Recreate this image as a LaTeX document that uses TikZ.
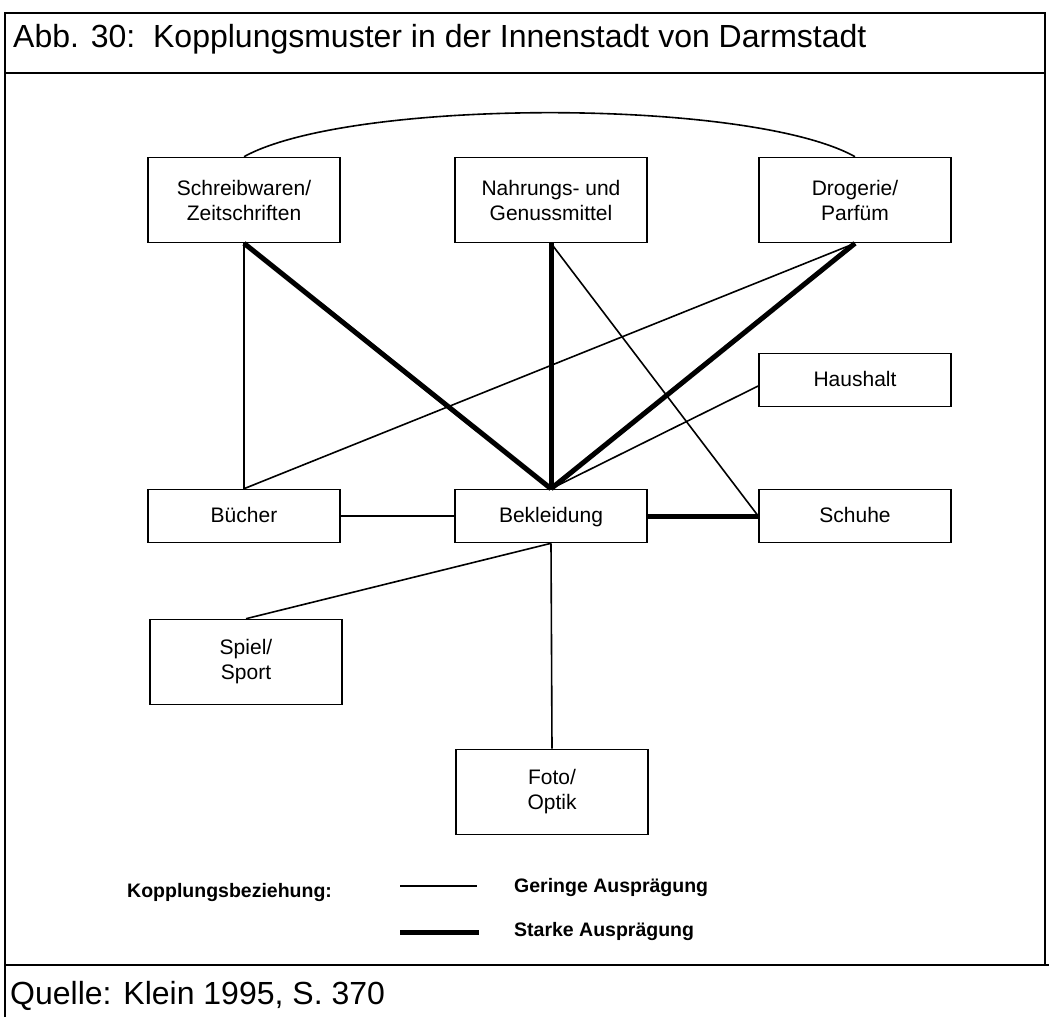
\documentclass[tikz,border=0pt]{standalone}
\usepackage{fontspec}
\setmainfont{Liberation Sans}
\begin{document}
\begin{tikzpicture}[x=1pt,y=-1pt]
  \tikzstyle{branch}=[draw,line width=1.6pt,minimum width=192pt,minimum height=85pt,align=center,inner sep=0pt,font=\fontsize{21}{25}\selectfont]
  \tikzstyle{flat}=[branch,minimum height=53pt,text height=15pt,text depth=3pt]
  \tikzstyle{weak}=[line width=1.6pt]
  \tikzstyle{strong}=[line width=5pt]
  \tikzstyle{legend}=[anchor=base west,inner sep=0pt,font=\fontsize{19.5}{23}\selectfont\bfseries]
  \tikzstyle{caption}=[anchor=base west,inner sep=0pt,font=\fontsize{32}{38}\selectfont]
  \useasboundingbox (0,0) rectangle (1049,1017);
  % frame
  \draw[weak] (5,1017) -- (5,13) -- (1045,13) -- (1045,965);
  \draw[weak] (5,73) -- (1045,73);
  \draw[weak] (5,965) -- (1049,965);
  \node[caption] (title) at (13,47) {Abb. 30:\ \ Kopplungsmuster in der Innenstadt von Darmstadt};
  \node[caption] (source) at (10,1004) {Quelle: Klein 1995, S. 370};
  % branches
  \node[branch] (schreib) at (244,200) {Schreibwaren/\\Zeitschriften};
  \node[branch] (nahrung) at (551,200) {Nahrungs- und\\Genussmittel};
  \node[branch] (drogerie) at (855,200) {Drogerie/\\Parfüm};
  \node[flat] (haushalt) at (855,380) {Haushalt};
  \node[flat] (buecher) at (244,516) {Bücher};
  \node[flat] (bekleidung) at (551,516) {Bekleidung};
  \node[flat] (schuhe) at (855,516) {Schuhe};
  \node[branch] (spiel) at (246,662) {Spiel/\\Sport};
  \node[branch] (foto) at (552,792) {Foto/\\Optik};
  % couplings
  \draw[weak] (schreib.north) .. controls (350,98) and (750,98) .. (drogerie.north);
  \draw[weak] (schreib.south) -- (buecher.north);
  \draw[strong] (schreib.south) -- (bekleidung.north);
  \draw[strong] (nahrung.south) -- (bekleidung.north);
  \draw[weak] (nahrung.south) -- (schuhe.west);
  \draw[strong] (drogerie.south) -- (bekleidung.north);
  \draw[weak] (drogerie.south) -- (buecher.north);
  \draw[weak] ([yshift=-6pt]haushalt.west) -- (bekleidung.north);
  \draw[weak] (buecher) -- (bekleidung);
  \draw[strong] (bekleidung) -- (schuhe);
  \draw[weak] (bekleidung.south) -- (spiel.north);
  \draw[weak] (bekleidung.south) -- (foto.north);
  % legend
  \node[legend] (kopplung) at (127,897) {Kopplungsbeziehung:};
  \node[legend] (gering) at (514,892) {Geringe Ausprägung};
  \node[legend] (stark) at (514,936) {Starke Ausprägung};
  \coordinate (g1) at (400,886); \coordinate (g2) at (477,886);
  \coordinate (s1) at (400,932); \coordinate (s2) at (479,932);
  \draw[weak] (g1) -- (g2);
  \draw[strong] (s1) -- (s2);
\end{tikzpicture}
\end{document}
